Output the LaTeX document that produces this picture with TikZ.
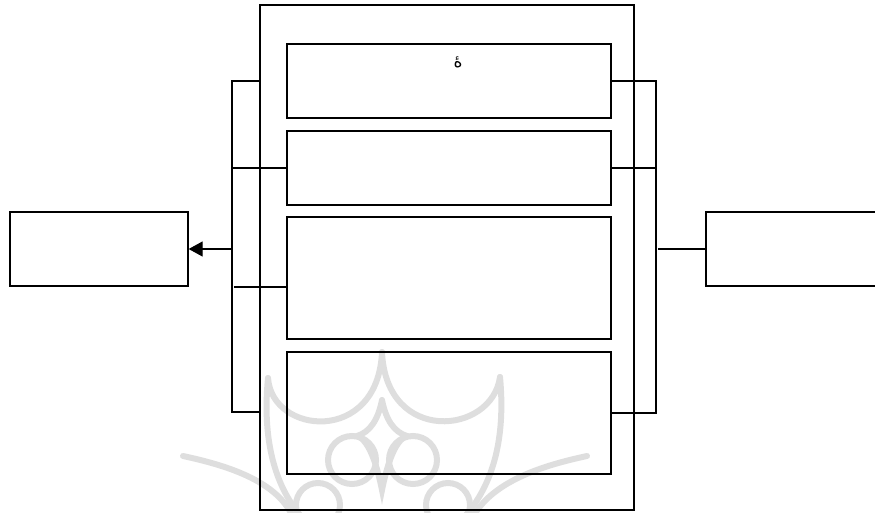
\documentclass[tikz,border=0pt]{standalone}
\usepackage{fontspec}
\newfontfamily\arabicfont[Script=Arabic]{DejaVu Sans}
\TeXXeTstate=1
\usetikzlibrary{arrows.meta}
\begin{document}
\begin{tikzpicture}[x=1pt,y=-1pt,
  frame/.style={draw, line width=1.3pt, inner sep=0pt, rectangle},
  link/.style={line width=1.3pt},
  orn/.style={draw=black!13, line width=6pt, line cap=round}]
\useasboundingbox (0,0) rectangle (875,512);
\clip (0,0) rectangle (875,512);

% faint ornament behind the panels
\draw[orn] (268,378) .. controls (272,435) and (378,445) .. (382,352);
\draw[orn] (382,352) .. controls (386,445) and (492,435) .. (500,377);
\draw[orn] (268,378) .. controls (262,440) and (275,485) .. (300,515);
\draw[orn] (500,377) .. controls (506,440) and (492,485) .. (466,515);
\draw[orn] (183,456) .. controls (225,465) and (275,480) .. (292,515);
\draw[orn] (587,456) .. controls (545,465) and (495,480) .. (474,515);
\draw[orn] (382,400) .. controls (378,420) and (370,432) .. (357,436)
                     .. controls (370,440) and (378,470) .. (382,490)
                     .. controls (386,470) and (394,440) .. (407,436)
                     .. controls (394,432) and (386,420) .. (382,400);
\draw[orn] (352,460) circle[radius=24];
\draw[orn] (413,460) circle[radius=24];
\draw[orn] (318,505) circle[radius=22];
\draw[orn] (448,505) circle[radius=22];

% container and its four panels
\node[frame, minimum width=374, minimum height=505] (cont) at (447,257.5) {};
\node[frame, minimum width=324, minimum height=74]  (b1) at (449,81) {};
\node[frame, minimum width=324, minimum height=74]  (b2) at (449,168) {};
\node[frame, minimum width=324, minimum height=122] (b3) at (449,278) {};
\node[frame, minimum width=324, minimum height=122] (b4) at (449,413) {};
\node[inner sep=0pt, font=\fontsize{17}{18}\selectfont] (t1) at (458,62) {\arabicfont\beginR هٔ\endR};

% side boxes
\node[frame, minimum width=178, minimum height=74] (lbox) at (99,249) {};
\node[frame, minimum width=194, minimum height=74] (rbox) at (803,249) {};

% left bracket
\coordinate (lt) at (232,81);
\coordinate (lb) at (232,412);
\coordinate (lm) at (232,249);
\coordinate (l3) at (234,287);
\draw[link] (lt -| cont.west) -- (lt) -- (lb) -- (lb -| cont.west);
\draw[link] (b2.west) -- (b2.west -| lt);
\draw[link] (l3 -| b3.west) -- (l3);
\draw[link, -{Triangle[length=14pt,width=15pt]}] (lm) -- (lbox.east);

% right bracket
\coordinate (rt) at (656,81);
\coordinate (rb) at (656,413);
\coordinate (rm) at (658,249);
\draw[link] (b1.east) -- (rt) -- (rb) -- (b4.east);
\draw[link] (b2.east) -- (b2.east -| rt);
\draw[link] (rm) -- (rbox.west);
\end{tikzpicture}
\end{document}
